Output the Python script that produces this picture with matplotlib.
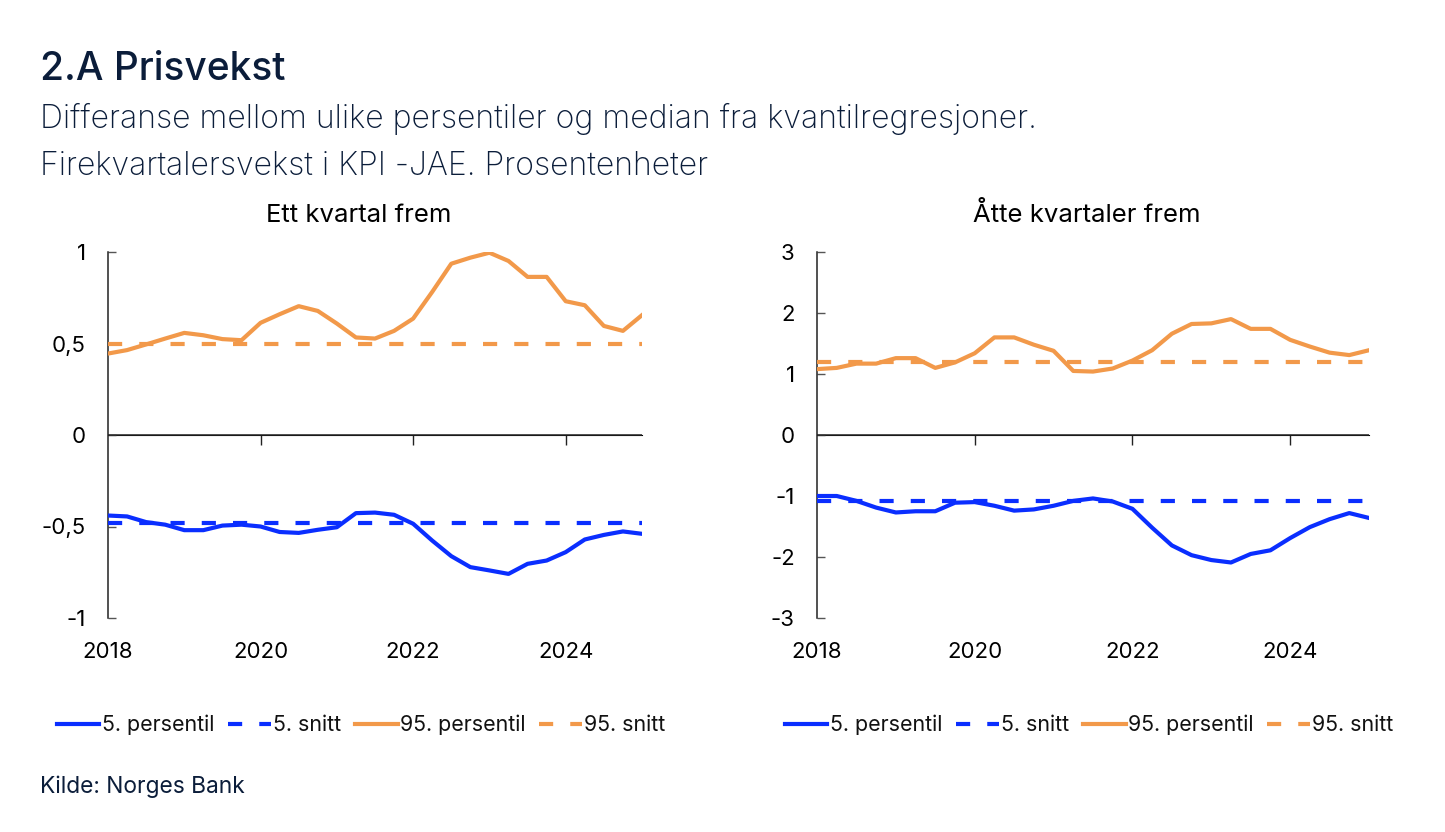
import numpy as np
import matplotlib
matplotlib.use("Agg")
import matplotlib.pyplot as plt
from matplotlib.ticker import FixedLocator, FuncFormatter, NullFormatter

# ---------------- data ----------------
start_year = 2018
n_quarters = 29  # 2018Q1 .. 2025Q1
quarters = [start_year + i * 0.25 for i in range(n_quarters)]

left_p5 = [-0.44, -0.445, -0.476, -0.49, -0.52, -0.52, -0.495, -0.49, -0.50, -0.53,
           -0.535, -0.518, -0.504, -0.427, -0.424, -0.436, -0.485, -0.577, -0.662, -0.722,
           -0.74, -0.759, -0.704, -0.686, -0.64, -0.571, -0.546, -0.527, -0.54]
left_p95 = [0.445, 0.464, 0.495, 0.527, 0.558, 0.545, 0.524, 0.518, 0.613, 0.66,
            0.704, 0.678, 0.609, 0.533, 0.527, 0.569, 0.636, 0.782, 0.936, 0.969,
            0.996, 0.951, 0.864, 0.864, 0.731, 0.709, 0.596, 0.569, 0.655]
left_p5_mean = -0.48
left_p95_mean = 0.50

right_p5 = [-1.0, -1.0, -1.08, -1.19, -1.27, -1.25, -1.25, -1.11, -1.10, -1.16,
            -1.24, -1.22, -1.16, -1.08, -1.04, -1.09, -1.21, -1.52, -1.81, -1.97,
            -2.05, -2.09, -1.95, -1.89, -1.69, -1.51, -1.38, -1.28, -1.36]
right_p95 = [1.08, 1.10, 1.17, 1.17, 1.26, 1.26, 1.10, 1.19, 1.34, 1.60,
             1.60, 1.48, 1.38, 1.05, 1.04, 1.09, 1.22, 1.39, 1.66, 1.82,
             1.83, 1.90, 1.74, 1.74, 1.56, 1.45, 1.35, 1.31, 1.39]
right_p5_mean = -1.09
right_p95_mean = 1.19

x_ticks = [2018, 2020, 2022, 2024]
left_yticks = [-1, -0.5, 0, 0.5, 1]
right_yticks = [-3, -2, -1, 0, 1, 2, 3]

legend_labels = ["5. persentil", "5. snitt", "95. persentil", "95. snitt"]
panel_titles = ["Ett kvartal frem", "Åtte kvartaler frem"]
title = "2.A Prisvekst"
subtitle1 = "Differanse mellom ulike persentiler og median fra kvantilregresjoner."
subtitle2 = "Firekvartalersvekst i KPI -JAE. Prosentenheter"
source = "Kilde: Norges Bank"

# ---------------- style ----------------
BLUE = "#0A2EFF"
ORANGE = "#F2994A"
NAVY = "#0B1D3A"
FONT = ["Inter", "DejaVu Sans"]
plt.rcParams["font.family"] = FONT

W, H = 1445, 832
fig = plt.figure(figsize=(W / 100, H / 100), dpi=100)

LW = 3.0
DASH = (0, (3.4, 4.1))


def fmt(v, pos):
    return f"{v:g}".replace(".", ",")


def make_panel(rect, p5, p95, m5, m95, ylim, yticks, ptitle, title_x, leg_x):
    ax = fig.add_axes(rect)
    ax.plot(quarters, p5, color=BLUE, lw=LW, label=legend_labels[0], zorder=3)
    ax.plot(quarters, [m5] * len(quarters), color=BLUE, lw=LW, linestyle=DASH,
            label=legend_labels[1], zorder=3)
    ax.plot(quarters, p95, color=ORANGE, lw=LW, label=legend_labels[2], zorder=3)
    ax.plot(quarters, [m95] * len(quarters), color=ORANGE, lw=LW, linestyle=DASH,
            label=legend_labels[3], zorder=3)
    ax.axhline(0, color="#222222", lw=1.1, zorder=2)
    ax.set_xlim(quarters[0], quarters[-1])
    ax.set_ylim(*ylim)
    for s in ["top", "right", "bottom"]:
        ax.spines[s].set_visible(False)
    ax.spines["left"].set_color("#222222")
    ax.spines["left"].set_linewidth(1.1)
    ax.yaxis.set_major_locator(FixedLocator(yticks))
    ax.yaxis.set_major_formatter(FuncFormatter(fmt))
    ax.tick_params(axis="y", direction="in", length=6, width=1.0, color="#555555",
                   labelsize=16, pad=16, labelcolor="black")
    ax.xaxis.set_major_locator(FixedLocator(x_ticks))
    ax.xaxis.set_major_formatter(FuncFormatter(lambda v, p: f"{int(v)}"))
    ax.tick_params(axis="x", length=0, labelsize=16, pad=17, labelcolor="black")
    # ticks on the zero line
    sec = ax.secondary_xaxis(0.5)
    sec.spines["bottom"].set_visible(False)
    sec.xaxis.set_major_locator(FixedLocator(x_ticks[1:]))
    sec.xaxis.set_major_formatter(NullFormatter())
    sec.tick_params(axis="x", direction="in", length=7, width=1.0, color="#222222")
    ax.patch.set_alpha(0)
    fig.text(title_x / W, 1 - 215 / H, ptitle, ha="center", va="center",
             fontsize=18.5, color="black")
    handles, labels = ax.get_legend_handles_labels()
    fig.legend(handles, labels, loc="center", bbox_to_anchor=(leg_x / W, 1 - 725 / H),
               ncol=4, frameon=False, fontsize=15.4, handlelength=2.0, handletextpad=0.1,
               columnspacing=0.65, borderaxespad=0, labelcolor="#111111")
    return ax


top_px, bot_px = 252, 618
ax1 = make_panel([108 / W, 1 - bot_px / H, (642 - 108) / W, (bot_px - top_px) / H],
                 left_p5, left_p95, left_p5_mean, left_p95_mean, (-1, 1), left_yticks,
                 panel_titles[0], 359, 361)
ax2 = make_panel([817 / W, 1 - bot_px / H, (1369 - 817) / W, (bot_px - top_px) / H],
                 right_p5, right_p95, right_p5_mean, right_p95_mean, (-3, 3), right_yticks,
                 panel_titles[1], 1087, 1089)

fig.text(40 / W, 1 - 70 / H, title, ha="left", va="center", fontsize=28,
         fontweight="medium", color=NAVY)
fig.text(40 / W, 1 - 119 / H, subtitle1, ha="left", va="center", fontsize=23,
         fontweight="light", color=NAVY)
fig.text(40 / W, 1 - 166 / H, subtitle2, ha="left", va="center", fontsize=23,
         fontweight="light", color=NAVY)
fig.text(40 / W, 1 - 787 / H, source, ha="left", va="center", fontsize=16.4,
         color=NAVY)

fig.savefig("out.png", dpi=100, facecolor="white")
